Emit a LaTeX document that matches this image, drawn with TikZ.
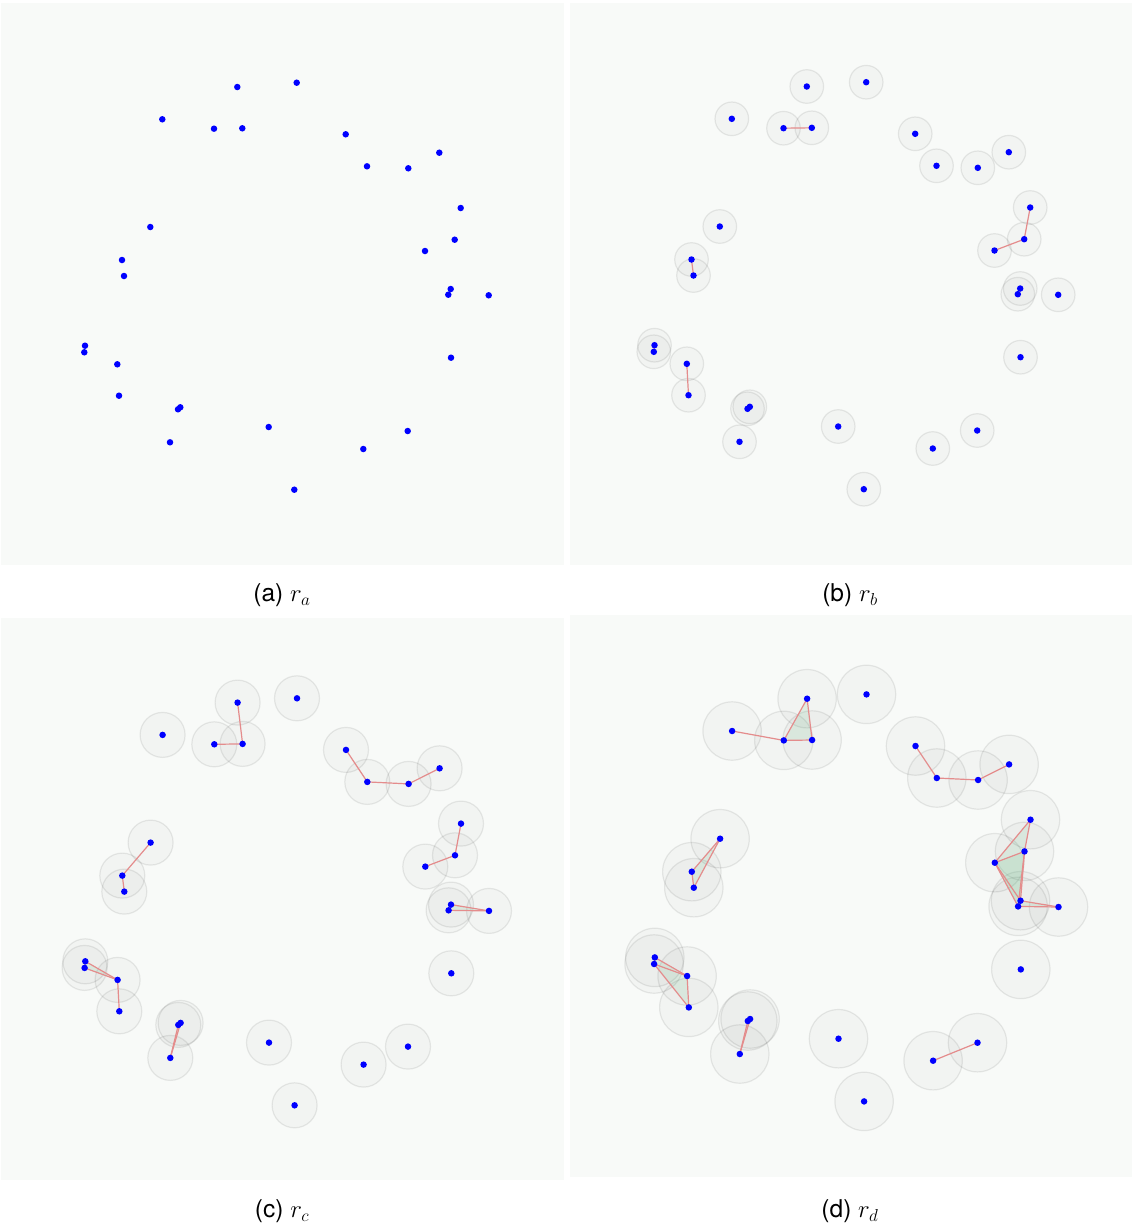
\documentclass[tikz,border=0pt]{standalone}
\usepackage{fontspec}
\setmainfont{TeX Gyre Heros}

\definecolor{panelGray}{RGB}{248,250,248}
\definecolor{edgeRed}{RGB}{228,140,140}
\definecolor{faceGreen}{RGB}{110,195,140}

\begin{document}
\begin{tikzpicture}[x=1pt,y=-1pt,
  panel/.style={fill=panelGray},
  ball/.style={draw=black,draw opacity=0.08,fill=black,fill opacity=0.022,line width=1.2pt},
  face/.style={fill=faceGreen,fill opacity=0.15},
  edge/.style={edgeRed,line width=1.2pt},
  dot/.style={circle,fill=blue,inner sep=0pt,minimum size=6.5pt},
  caption/.style={font=\fontsize{24.5}{29}\selectfont}]
\useasboundingbox (0,0) rectangle (1134,1227);

% sample points (same cloud in every panel)
\def\pointList{237.3/87.0,296.7/82.7,162.3/119.3,214.0/128.7,242.3/128.3,
  345.7/134.3,367.0/166.3,408.3/168.3,439.3/152.7,460.7/208.0,454.7/239.7,
  425.0/251.0,150.3/227.0,122.0/260.0,124.0/276.0,450.7/289.0,448.3/294.7,
  488.7/295.3,85.0/345.7,84.3/352.3,117.3/364.3,451.0/357.7,119.0/395.7,
  180.3/407.3,178.0/409.3,268.7/427.0,407.7/431.0,170.0/442.3,363.3/449.0,
  294.3/489.7}

% edges and triangles for each radius
\def\edgesB{4/5,10/11,11/12,14/15,16/17,19/20,21/23,24/25}
\def\edgesC{1/5,4/5,6/7,7/8,8/9,10/11,11/12,13/14,14/15,16/17,16/18,17/18,
  19/20,19/21,20/21,21/23,24/25,24/28,25/28}
\def\edgesD{1/4,1/5,3/4,4/5,6/7,7/8,8/9,10/11,10/12,11/12,11/16,11/17,12/16,
  12/17,13/14,13/15,14/15,16/17,16/18,17/18,19/20,19/21,20/21,20/23,21/23,
  24/25,24/28,25/28,27/29}
\def\facesC{16/17/18,19/20/21,24/25/28}
\def\facesD{1/4/5,10/11/12,11/12/16,11/12/17,11/16/17,12/16/17,16/17/18,
  13/14/15,19/20/21,20/21/23,24/25/28}

% panel backgrounds
\fill[panel] (1,3) rectangle (564,565);
\fill[panel] (570,3) rectangle (1132,565);
\fill[panel] (1,618) rectangle (564,1180);
\fill[panel] (570,615) rectangle (1132,1177);

% (a) points only
\foreach \x/\y [count=\i] in \pointList {
  \node[dot] (a\i) at (\x,\y) {};
}
\node[caption] (capA) at (282,595) {(a) $r_a$};

% (b)
\begin{scope}[shift={(569.5,-0.5)}]
\pgfmathsetmacro{\ballRadius}{16.8}
\foreach \x/\y [count=\i] in \pointList {
  \coordinate (b\i) at (\x,\y);
}
\foreach \i in {1,...,30} {
  \draw[ball] (b\i) circle (\ballRadius pt);
}
\foreach \i/\j in \edgesB {
  \draw[edge] (b\i) -- (b\j);
}
\foreach \i in {1,...,30} {
  \node[dot] (bd\i) at (b\i) {};
}
\end{scope}
\node[caption] (capB) at (850,595) {(b) $r_b$};

% (c)
\begin{scope}[shift={(0.3,615.6)}]
\pgfmathsetmacro{\ballRadius}{22.5}
\foreach \x/\y [count=\i] in \pointList {
  \coordinate (c\i) at (\x,\y);
}
\foreach \i in {1,...,30} {
  \draw[ball] (c\i) circle (\ballRadius pt);
}
\foreach \i/\j/\k in \facesC {
  \fill[face] (c\i) -- (c\j) -- (c\k) -- cycle;
}
\foreach \i/\j in \edgesC {
  \draw[edge] (c\i) -- (c\j);
}
\foreach \i in {1,...,30} {
  \node[dot] (cd\i) at (c\i) {};
}
\end{scope}
\node[caption] (capC) at (282,1211) {(c) $r_c$};

% (d)
\begin{scope}[shift={(569.8,611.7)}]
\pgfmathsetmacro{\ballRadius}{29.2}
\foreach \x/\y [count=\i] in \pointList {
  \coordinate (d\i) at (\x,\y);
}
\foreach \i in {1,...,30} {
  \draw[ball] (d\i) circle (\ballRadius pt);
}
\foreach \i/\j/\k in \facesD {
  \fill[face] (d\i) -- (d\j) -- (d\k) -- cycle;
}
\foreach \i/\j in \edgesD {
  \draw[edge] (d\i) -- (d\j);
}
\foreach \i in {1,...,30} {
  \node[dot] (dd\i) at (d\i) {};
}
\end{scope}
\node[caption] (capD) at (850,1211) {(d) $r_d$};
\end{tikzpicture}
\end{document}
